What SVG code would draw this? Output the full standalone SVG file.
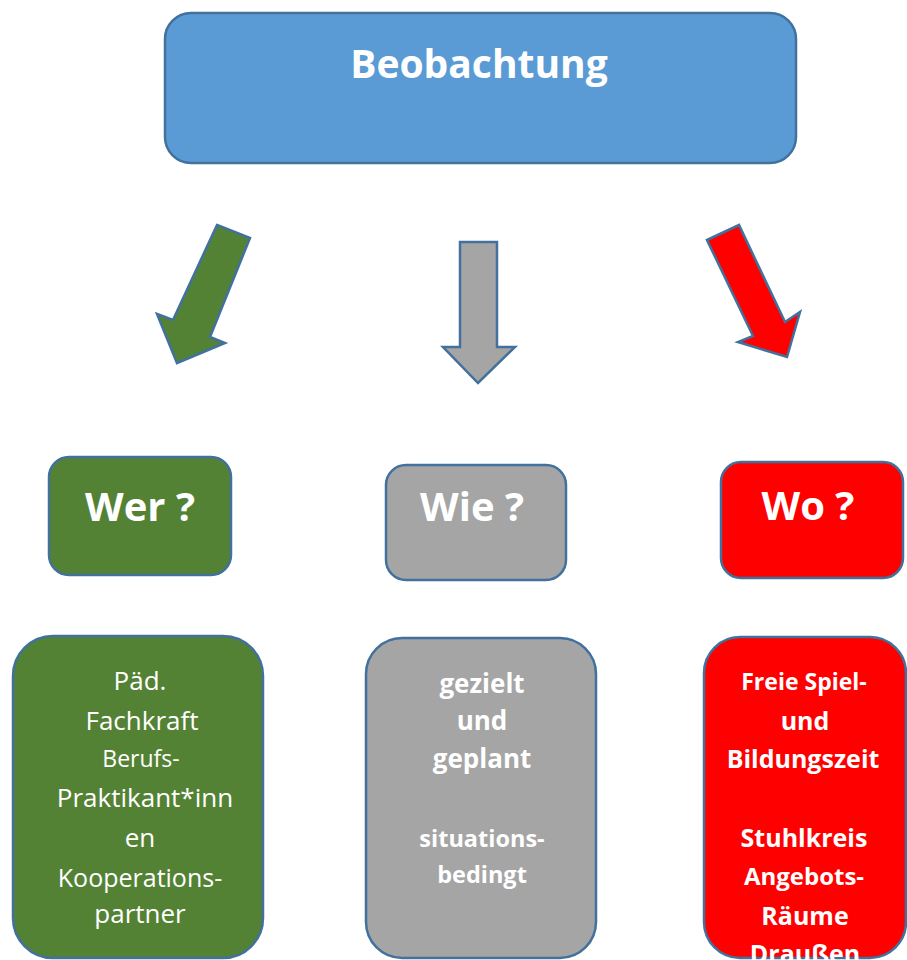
<svg xmlns="http://www.w3.org/2000/svg" width="907" height="960" viewBox="0 0 907 960">
<style>
.box{stroke:#41719C;stroke-width:2.5}
.blue{fill:#5B9BD5}
.green{fill:#548235}
.gray{fill:#A5A5A5}
.red{fill:#FF0000}
.t{font-family:"Open Sans","Liberation Sans",sans-serif;fill:#FFFFFF;text-anchor:middle}
.b{font-weight:bold}
.h{font-size:40px;font-weight:bold}
</style>
<rect width="907" height="960" fill="#FFFFFF"/>
<g id="beobachtung">
<rect class="box blue" x="165" y="13" width="631" height="150" rx="26"/>
<text class="t b" x="479" y="78" font-size="39">Beobachtung</text>
</g>
<g id="connectors">
<polygon class="box green" points="217,225 250,238 210,337 225,343 177,363 157,314 173,320"/>
<polygon class="box gray" points="460,242 497,242 497,347 515,347 478,383 443,347 460,347"/>
<polygon class="box red" points="707,240 739,225 785,322 800,312 787,357 738,342 753,336"/>
</g>
<g id="wer">
<rect class="box green" x="49" y="457" width="182" height="118" rx="20"/>
<text class="t h" x="140" y="521">Wer ?</text>
</g>
<g id="wie">
<rect class="box gray" x="386" y="465" width="180" height="115" rx="20"/>
<text class="t h" x="472" y="521">Wie ?</text>
</g>
<g id="wo">
<rect class="box red" x="721" y="462" width="182" height="116" rx="20"/>
<text class="t h" x="808" y="520">Wo ?</text>
</g>
<g id="wer-detail">
<rect class="box green" x="13" y="636" width="250" height="322" rx="40"/>
<text class="t" x="140" y="690" font-size="26">Päd.</text>
<text class="t" x="142" y="730" font-size="26">Fachkraft</text>
<text class="t" x="141" y="767" font-size="23">Berufs-</text>
<text class="t" x="145" y="807" font-size="26">Praktikant*inn</text>
<text class="t" x="140" y="847" font-size="26">en</text>
<text class="t" x="140" y="887" font-size="25">Kooperations-</text>
<text class="t" x="140" y="923" font-size="26">partner</text>
</g>
<g id="wie-detail">
<rect class="box gray" x="366" y="638" width="230" height="320" rx="36"/>
<text class="t b" x="482" y="693" font-size="26">gezielt</text>
<text class="t b" x="482" y="730" font-size="26">und</text>
<text class="t b" x="482" y="768" font-size="26">geplant</text>
<text class="t b" x="482" y="847" font-size="23.5">situations-</text>
<text class="t b" x="482" y="883" font-size="23.5">bedingt</text>
</g>
<g id="wo-detail">
<rect class="box red" x="704" y="637" width="202" height="321" rx="36"/>
<text class="t b" x="804" y="690" font-size="23">Freie Spiel-</text>
<text class="t b" x="805" y="730" font-size="25">und</text>
<text class="t b" x="803" y="768" font-size="25">Bildungszeit</text>
<text class="t b" x="804" y="847" font-size="25">Stuhlkreis</text>
<text class="t b" x="804" y="885" font-size="24">Angebots-</text>
<text class="t b" x="805" y="925" font-size="25">Räume</text>
<text class="t b" x="805" y="963" font-size="25">Draußen</text>
</g>
</svg>
